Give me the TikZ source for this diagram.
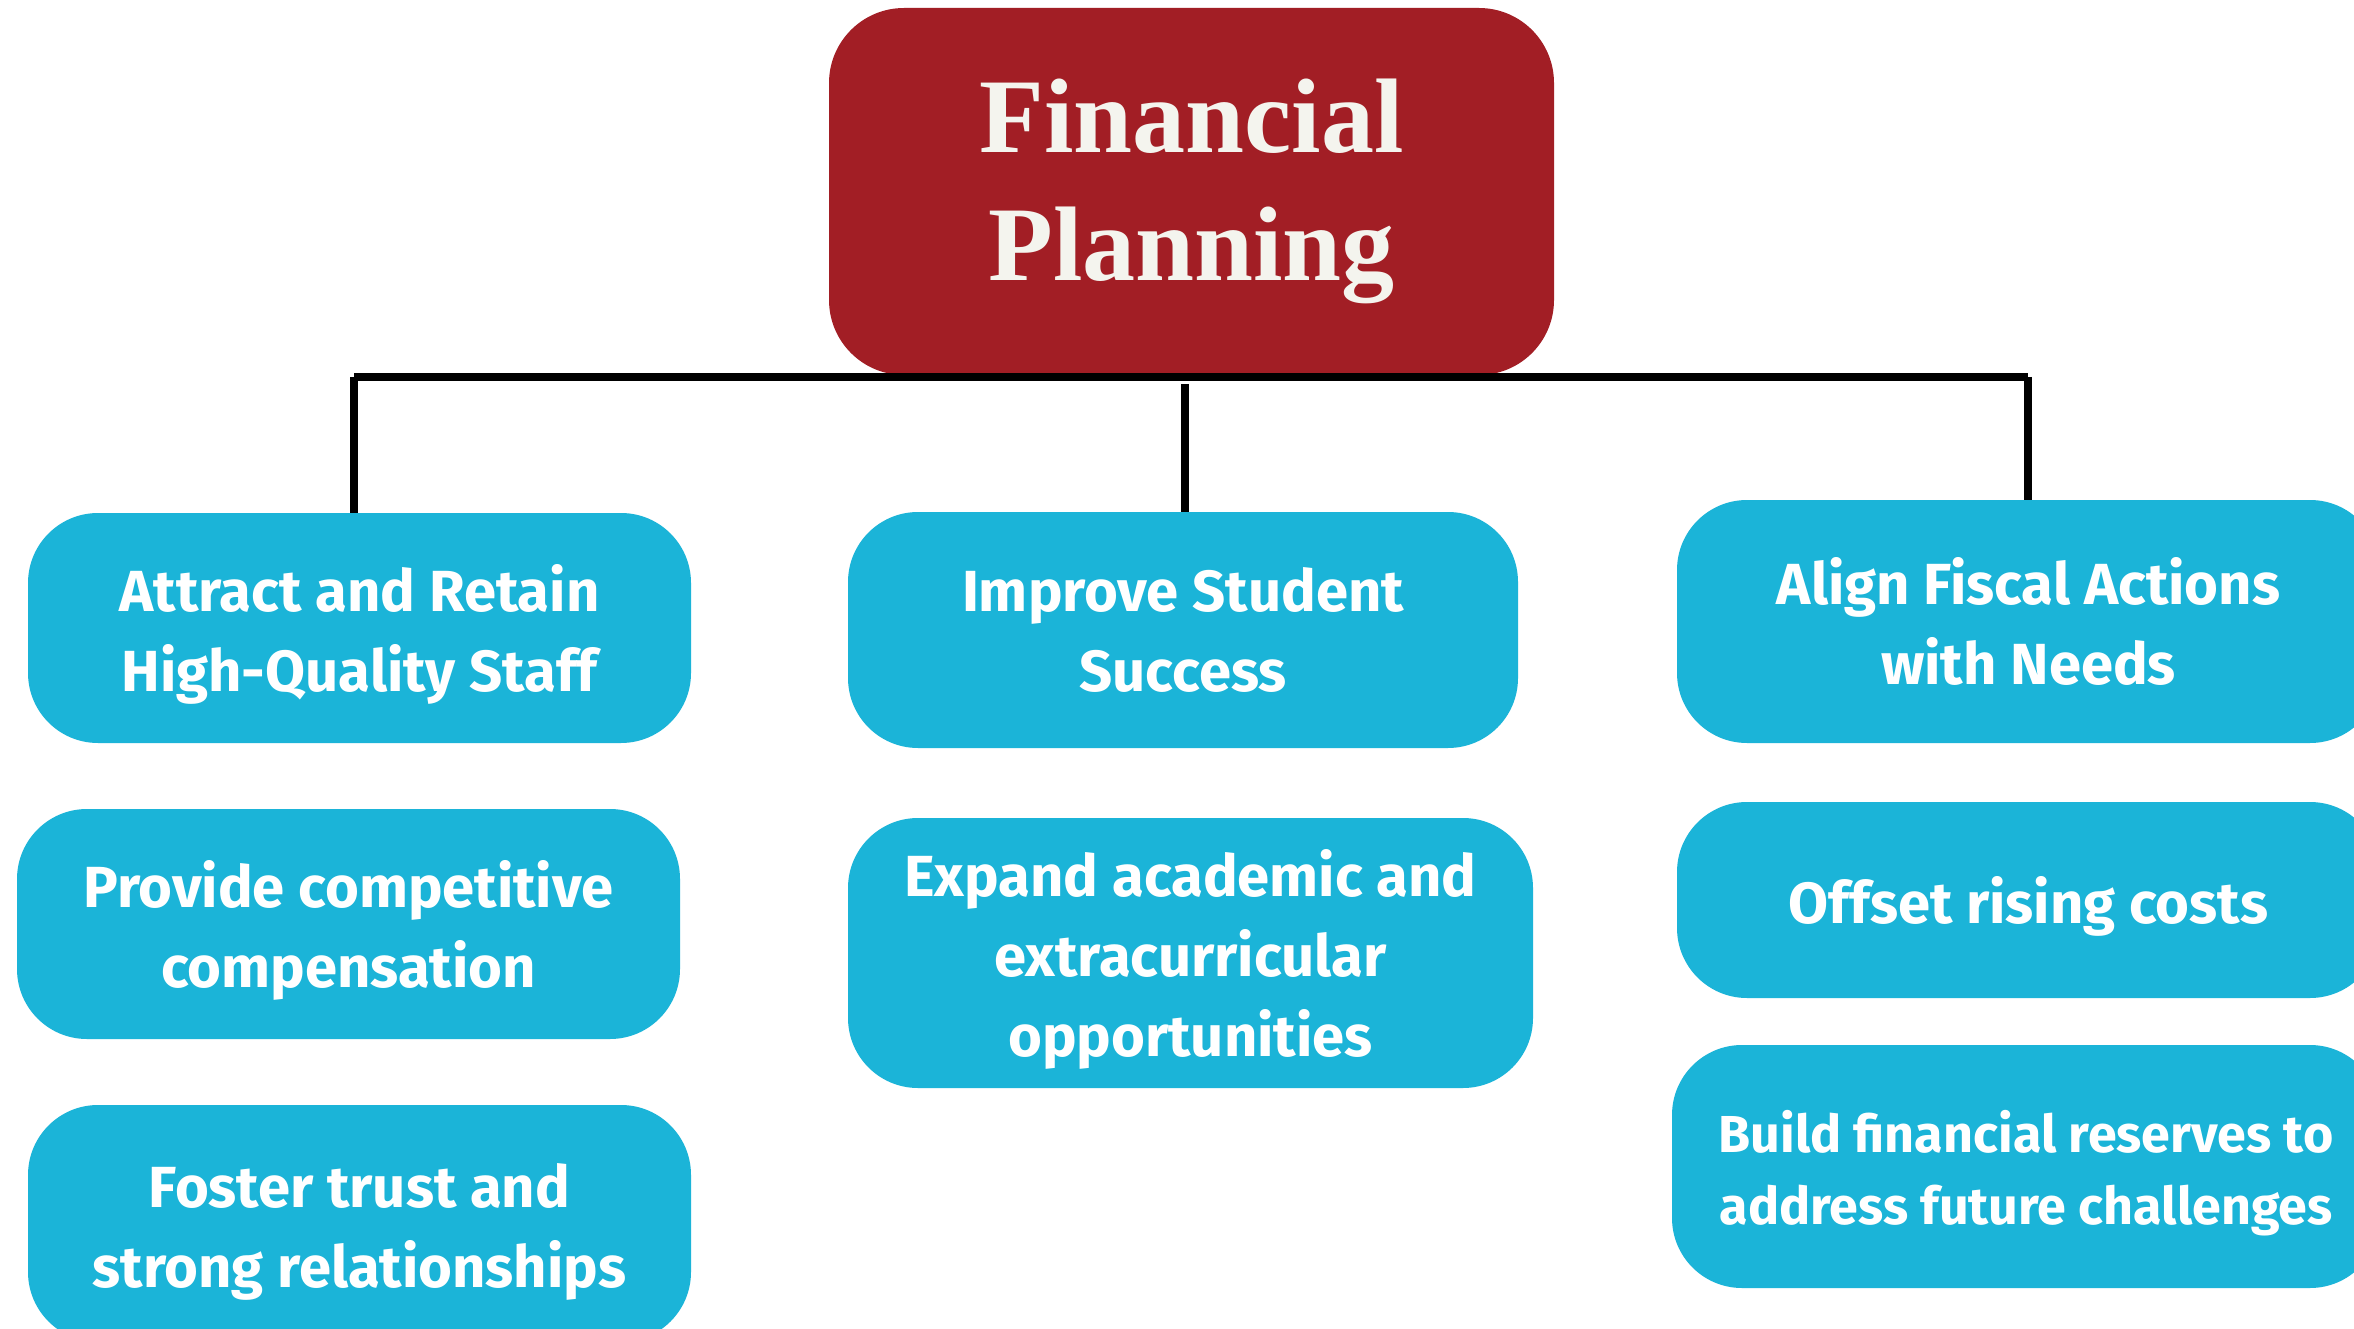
\documentclass[tikz,border=0pt]{standalone}
\usepackage{fontspec}
\setmainfont{Fira Sans}
\newfontfamily\titlefont{Liberation Serif}
\definecolor{titlered}{HTML}{A21E25}
\definecolor{boxcyan}{HTML}{1BB4D8}
\definecolor{titletext}{HTML}{F4F4EE}
\newcommand\topstrut{\rule{0pt}{60pt}}
\tikzset{
  goalbox/.style={fill=boxcyan, rounded corners=70pt, inner sep=0pt, align=center,
    text=white, font=\bfseries\fontsize{58}{80}\selectfont},
  titlebox/.style={fill=titlered, rounded corners=75pt, inner sep=0pt, align=center,
    text=titletext, font=\titlefont\bfseries\fontsize{106}{128}\selectfont},
  conn/.style={line width=8pt, black}
}
\begin{document}
\begin{tikzpicture}[x=1pt,y=-1pt]
\useasboundingbox (0,0) rectangle (2354,1329);
\fill[white] (0,0) rectangle (2354,1329);

\node[titlebox, minimum width=725pt, minimum height=367pt] (title) at (1191.5,191.5) {Financial\\Planning};

\node[goalbox, minimum width=663pt, minimum height=230pt] (b1) at (359.5,628) {\topstrut Attract and Retain\\High-Quality Staff};
\node[goalbox, minimum width=670pt, minimum height=236pt] (b2) at (1183,630) {Improve Student\\Success};
\node[goalbox, minimum width=703pt, minimum height=243pt] (b3) at (2028.5,621.5) {Align Fiscal Actions\\with Needs};
\node[goalbox, minimum width=663pt, minimum height=230pt] (b4) at (348.5,924) {\topstrut Provide competitive\\compensation};
\node[goalbox, minimum width=685pt, minimum height=270pt] (b5) at (1190.5,953) {\topstrut Expand academic and\\extracurricular\\opportunities};
\node[goalbox, minimum width=703pt, minimum height=196pt] (b6) at (2028.5,900) {\topstrut Offset rising costs};
\node[goalbox, minimum width=663pt, minimum height=237pt] (b7) at (359.5,1223.5) {\topstrut Foster trust and\\strong relationships};
\node[goalbox, minimum width=708pt, minimum height=243pt, font=\bfseries\fontsize{52}{72}\selectfont] (b8) at (2026,1166.5) {\rule{0pt}{55pt}Build financial reserves to\\address future challenges};

\coordinate (busL) at (354,377);
\coordinate (busR) at (2028,377);
\coordinate (busM) at (1185,384);
\draw[conn] (busL) -- (busR);
\draw[conn] (busL) -- (busL |- b1.north);
\draw[conn] (busM) -- (busM |- b2.north);
\draw[conn] (busR) -- (busR |- b3.north);
\end{tikzpicture}
\end{document}
